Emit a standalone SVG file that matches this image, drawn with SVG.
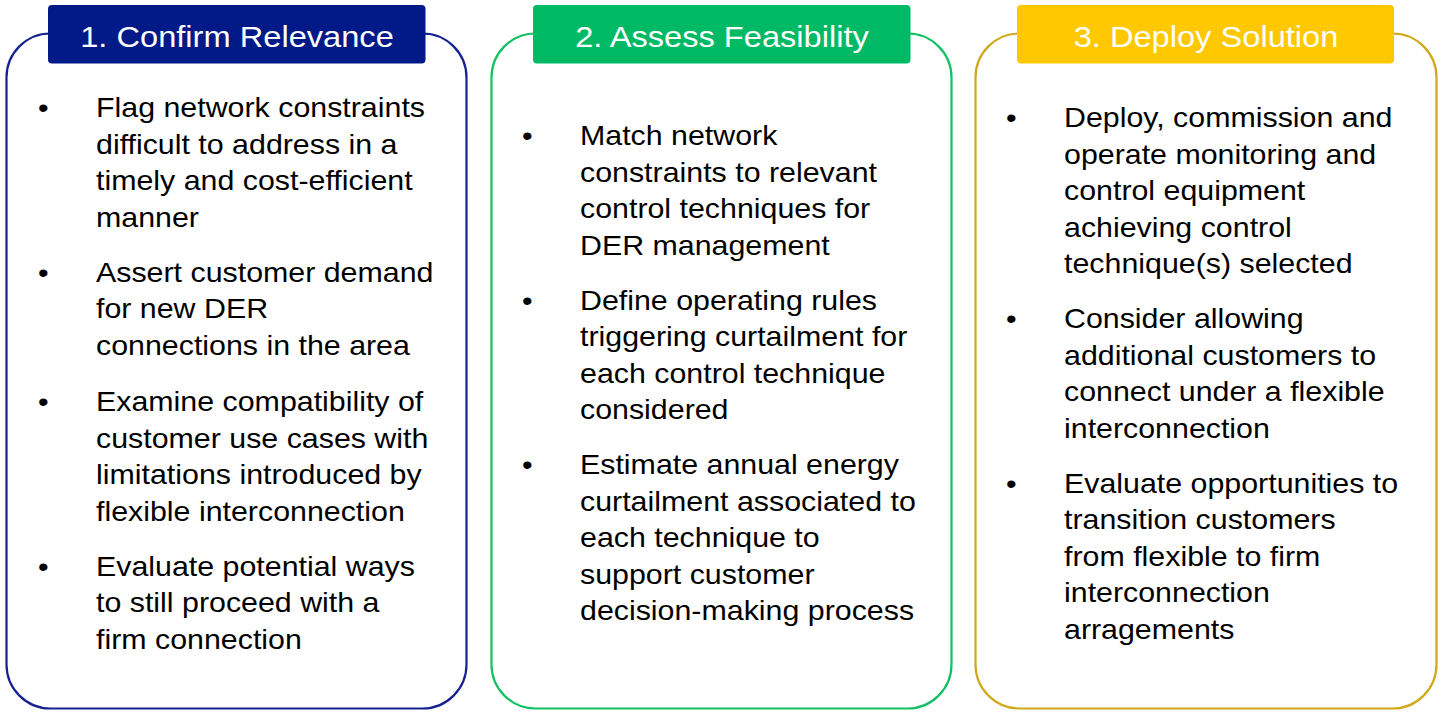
<svg xmlns="http://www.w3.org/2000/svg" width="1448" height="712" viewBox="0 0 1448 712">
<style>
.box{fill:#ffffff;stroke-width:2.2}
.hdr-t{font-family:"Liberation Sans",Arial,sans-serif;font-size:29px;fill:#ffffff;text-anchor:middle}
.t{font-family:"Liberation Sans",Arial,sans-serif;font-size:27px;fill:#000000}
</style>
<rect width="1448" height="712" fill="#ffffff"/>
<g id="connectors"></g>
<g id="step1">
<rect class="box" x="6.5" y="33.5" width="460" height="675" rx="44" ry="44" stroke="#16228f"/>
<rect x="48" y="5" width="377.5" height="58.5" rx="4" fill="#021a87"/>
<text class="hdr-t" transform="translate(237,47) scale(1.125,1)">1. Confirm Relevance</text>
<g class="t">
<text class="t" transform="translate(38,117) scale(1.125,1)">•</text>
<text class="t" transform="translate(96,117) scale(1.125,1)">Flag network constraints</text>
<text class="t" transform="translate(96,153.5) scale(1.125,1)">difficult to address in a</text>
<text class="t" transform="translate(96,190) scale(1.125,1)">timely and cost-efficient</text>
<text class="t" transform="translate(96,226.5) scale(1.125,1)">manner</text>
<text class="t" transform="translate(38,281.5) scale(1.125,1)">•</text>
<text class="t" transform="translate(96,281.5) scale(1.125,1)">Assert customer demand</text>
<text class="t" transform="translate(96,318) scale(1.125,1)">for new DER</text>
<text class="t" transform="translate(96,354.5) scale(1.125,1)">connections in the area</text>
<text class="t" transform="translate(38,411) scale(1.125,1)">•</text>
<text class="t" transform="translate(96,411) scale(1.125,1)">Examine compatibility of</text>
<text class="t" transform="translate(96,447.5) scale(1.125,1)">customer use cases with</text>
<text class="t" transform="translate(96,484) scale(1.125,1)">limitations introduced by</text>
<text class="t" transform="translate(96,520.5) scale(1.125,1)">flexible interconnection</text>
<text class="t" transform="translate(38,575.5) scale(1.125,1)">•</text>
<text class="t" transform="translate(96,575.5) scale(1.125,1)">Evaluate potential ways</text>
<text class="t" transform="translate(96,612) scale(1.125,1)">to still proceed with a</text>
<text class="t" transform="translate(96,648.5) scale(1.125,1)">firm connection</text>
</g>
</g>
<g id="step2">
<rect class="box" x="491.5" y="33.5" width="460" height="675" rx="44" ry="44" stroke="#12c163"/>
<rect x="533" y="5" width="377.5" height="58.5" rx="4" fill="#00b964"/>
<text class="hdr-t" transform="translate(722,47) scale(1.125,1)">2. Assess Feasibility</text>
<text class="t" transform="translate(522,145) scale(1.125,1)">•</text>
<text class="t" transform="translate(580,145) scale(1.125,1)">Match network</text>
<text class="t" transform="translate(580,181.5) scale(1.125,1)">constraints to relevant</text>
<text class="t" transform="translate(580,218) scale(1.125,1)">control techniques for</text>
<text class="t" transform="translate(580,254.5) scale(1.125,1)">DER management</text>
<text class="t" transform="translate(522,309.5) scale(1.125,1)">•</text>
<text class="t" transform="translate(580,309.5) scale(1.125,1)">Define operating rules</text>
<text class="t" transform="translate(580,346) scale(1.125,1)">triggering curtailment for</text>
<text class="t" transform="translate(580,382.5) scale(1.125,1)">each control technique</text>
<text class="t" transform="translate(580,419) scale(1.125,1)">considered</text>
<text class="t" transform="translate(522,474) scale(1.125,1)">•</text>
<text class="t" transform="translate(580,474) scale(1.125,1)">Estimate annual energy</text>
<text class="t" transform="translate(580,510.5) scale(1.125,1)">curtailment associated to</text>
<text class="t" transform="translate(580,547) scale(1.125,1)">each technique to</text>
<text class="t" transform="translate(580,583.5) scale(1.125,1)">support customer</text>
<text class="t" transform="translate(580,620) scale(1.125,1)">decision-making process</text>
</g>
<g id="step3">
<rect class="box" x="975.5" y="33.5" width="461" height="675" rx="44" ry="44" stroke="#cfa91b"/>
<rect x="1017" y="5" width="377" height="58.5" rx="4" fill="#ffc800"/>
<text class="hdr-t" transform="translate(1206,47) scale(1.125,1)">3. Deploy Solution</text>
<text class="t" transform="translate(1006,127) scale(1.125,1)">•</text>
<text class="t" transform="translate(1064,127) scale(1.125,1)">Deploy, commission and</text>
<text class="t" transform="translate(1064,163.5) scale(1.125,1)">operate monitoring and</text>
<text class="t" transform="translate(1064,200) scale(1.125,1)">control equipment</text>
<text class="t" transform="translate(1064,236.5) scale(1.125,1)">achieving control</text>
<text class="t" transform="translate(1064,273) scale(1.125,1)">technique(s) selected</text>
<text class="t" transform="translate(1006,328) scale(1.125,1)">•</text>
<text class="t" transform="translate(1064,328) scale(1.125,1)">Consider allowing</text>
<text class="t" transform="translate(1064,364.5) scale(1.125,1)">additional customers to</text>
<text class="t" transform="translate(1064,401) scale(1.125,1)">connect under a flexible</text>
<text class="t" transform="translate(1064,437.5) scale(1.125,1)">interconnection</text>
<text class="t" transform="translate(1006,492.5) scale(1.125,1)">•</text>
<text class="t" transform="translate(1064,492.5) scale(1.125,1)">Evaluate opportunities to</text>
<text class="t" transform="translate(1064,529) scale(1.125,1)">transition customers</text>
<text class="t" transform="translate(1064,565.5) scale(1.125,1)">from flexible to firm</text>
<text class="t" transform="translate(1064,602) scale(1.125,1)">interconnection</text>
<text class="t" transform="translate(1064,638.5) scale(1.125,1)">arragements</text>
</g>
</svg>
